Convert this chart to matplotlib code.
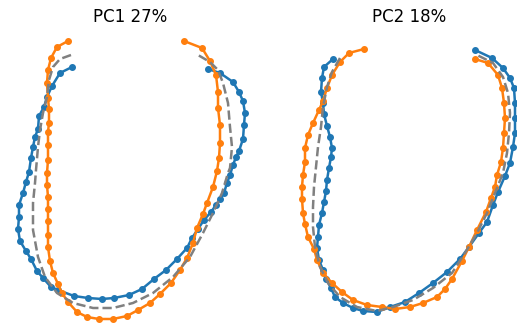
"""Shape modes: mean outline and mean +/- PC for the first two components."""
import matplotlib.pyplot as plt

titles = ['PC1 27%', 'PC2 18%']

# panel 1 (PC1) outlines in pixel units
pc1_plus_x = [72, 60, 52, 47, 44, 39, 38, 35, 33, 31, 29, 26, 23, 19, 19, 18, 20, 26, 31, 37,
              43, 51, 58, 74, 88, 102, 114, 129, 142, 154, 166, 177, 187, 192, 198, 204, 211,
              216, 220, 224, 227, 230, 233, 236, 239, 243, 244, 245, 243, 239, 233, 220, 208]
pc1_plus_y = [67, 73, 86, 97, 107, 116, 129, 137, 147, 158, 172, 182, 193, 205, 217, 229, 241,
              251, 259, 271, 278, 287, 290, 296, 298, 299, 298, 295, 289, 279, 270, 259, 248,
              238, 229, 220, 212, 205, 199, 193, 183, 175, 165, 157, 151, 139, 125, 113, 101,
              92, 82, 73, 69]
pc1_minus_x = [68, 57, 51, 48, 47, 48, 49, 49, 48, 48, 48, 47, 47, 48, 48, 48, 48, 48, 50, 53,
               58, 62, 68, 77, 87, 99, 113, 127, 138, 150, 160, 171, 180, 187, 193, 197, 203,
               207, 213, 217, 219, 220, 220, 218, 218, 216, 210, 202, 184]
pc1_minus_y = [41, 47, 58, 70, 83, 98, 109, 123, 132, 145, 160, 173, 185, 197, 209, 221, 235,
               247, 261, 273, 284, 293, 302, 312, 317, 319, 319, 316, 310, 303, 294, 283, 270,
               258, 243, 228, 214, 203, 187, 171, 158, 143, 125, 108, 92, 75, 61, 48, 41]
pc1_mean_x = [71, 60, 53, 49, 47, 43, 40, 38, 36, 35, 33, 33, 38, 45, 57, 73, 93, 113, 133, 153,
              173, 190, 203, 213, 222, 228, 230, 232, 230, 228, 223, 218, 210, 198]
pc1_mean_y = [55, 59, 67, 80, 97, 113, 130, 147, 170, 183, 203, 230, 257, 277, 293, 303, 308,
              308, 303, 293, 277, 257, 233, 213, 193, 173, 168, 147, 127, 103, 83, 70, 62, 55]

# panel 2 (PC2) outlines
pc2_plus_x = [333, 324, 322, 321, 323, 324, 327, 330, 332, 331, 329, 327, 326, 324, 322, 319,
              318, 317, 319, 323, 326, 331, 335, 343, 353, 363, 377, 390, 405, 419, 433, 447,
              460, 469, 479, 487, 493, 498, 505, 510, 513, 515, 515, 515, 514, 510, 503, 492, 475]
pc2_plus_y = [59, 67, 78, 92, 103, 114, 126, 137, 148, 157, 168, 180, 191, 202, 213, 225, 237,
              248, 260, 270, 279, 288, 297, 303, 308, 311, 312, 307, 302, 293, 283, 272, 259,
              247, 233, 222, 205, 192, 176, 163, 147, 133, 118, 103, 88, 78, 68, 58, 50]
pc2_minus_x = [364, 349, 340, 332, 327, 323, 319, 313, 308, 305, 305, 303, 302, 302, 303, 305,
               308, 314, 317, 323, 332, 342, 353, 367, 382, 395, 410, 423, 437, 445, 452, 462,
               469, 477, 486, 491, 495, 497, 501, 503, 504, 505, 504, 502, 498, 488, 475]
pc2_minus_y = [49, 53, 62, 75, 88, 101, 110, 123, 135, 148, 162, 175, 187, 199, 213, 224, 237,
               249, 260, 273, 283, 292, 300, 305, 307, 309, 307, 303, 297, 289, 279, 261, 247,
               230, 212, 198, 187, 175, 162, 148, 133, 118, 103, 88, 75, 63, 59]
pc2_mean_x = [340, 332, 327, 323, 321, 318, 316, 314, 313, 313, 315, 320, 328, 340, 357, 377,
              393, 413, 433, 452, 465, 477, 487, 495, 503, 507, 509, 510, 508, 503, 493, 477]
pc2_mean_y = [58, 72, 87, 107, 127, 147, 167, 187, 207, 227, 247, 267, 283, 297, 307, 311, 307,
              300, 288, 273, 253, 233, 213, 193, 173, 153, 133, 113, 93, 77, 63, 55]

panels = [
    (pc1_plus_x, pc1_plus_y, pc1_minus_x, pc1_minus_y, pc1_mean_x, pc1_mean_y, (0, 260)),
    (pc2_plus_x, pc2_plus_y, pc2_minus_x, pc2_minus_y, pc2_mean_x, pc2_mean_y, (301, 517)),
]

W, H = 517, 326
fig = plt.figure(figsize=(W / 100, H / 100), dpi=100)

top = 30
for title, (px, py, mx, my, ax_, ay_, (x0, x1)) in zip(titles, panels):
    ax = fig.add_axes([x0 / W, 0, (x1 - x0) / W, (H - top) / H])
    ax.plot(px, py, 'o-', color='#1f77b4', lw=1.8, ms=4, clip_on=False)
    ax.plot(mx, my, 'o-', color='#ff7f0e', lw=1.8, ms=4, clip_on=False)
    ax.plot(ax_, ay_, '--', color='gray', lw=1.8, clip_on=False)
    ax.set_xlim(x0, x1)
    ax.set_ylim(H, top)
    ax.set_title(title, fontsize=12)
    ax.axis('off')

fig.savefig('out.png', dpi=100)
